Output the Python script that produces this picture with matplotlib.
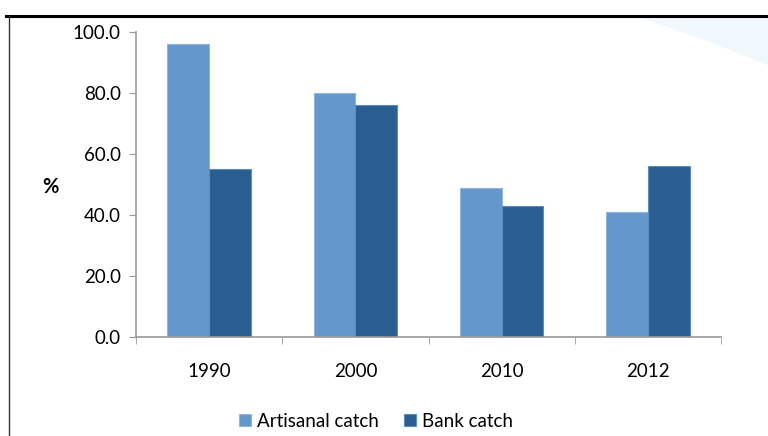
import matplotlib.pyplot as plt
import numpy as np
from matplotlib.patches import Polygon

plt.rcParams['font.family'] = ['Lato', 'DejaVu Sans']

years = ['1990', '2000', '2010', '2012']
artisanal = [96, 80, 49, 41]
bank = [55, 76, 43, 56]

fig = plt.figure(figsize=(7.68, 4.36), dpi=100)

# faint blue swoosh in the top-right corner
swoosh = Polygon([(0.83, 0.963), (1.0, 0.963), (1.0, 0.85), (0.93, 0.90)],
                 closed=True, transform=fig.transFigure,
                 facecolor='#f0f8fd', edgecolor='none', zorder=0)
fig.patches.append(swoosh)

# outer frame lines (top and left)
fig.add_artist(plt.Line2D([0.008, 1.0], [0.963, 0.963], transform=fig.transFigure,
                          color='black', lw=2.2))
fig.add_artist(plt.Line2D([0.012, 0.012], [0.0, 0.963], transform=fig.transFigure,
                          color='#333333', lw=1.0))

ax = fig.add_axes([136 / 768, 1 - 337 / 436, 585 / 768, 305 / 436])
ax.patch.set_alpha(0)

x = np.arange(len(years))
w = 0.285
ax.bar(x - w / 2, artisanal, w, color='#6497cb', edgecolor='#8fb6de', lw=0.8,
       label='Artisanal catch')
ax.bar(x + w / 2, bank, w, color='#2a5d90', edgecolor='#5b8cc2', lw=0.8,
       label='Bank catch')

ax.set_xlim(-0.5, len(years) - 0.5)
ax.set_ylim(0, 100)
ax.set_yticks(np.arange(0, 101, 20))
ax.set_yticklabels([f'{v:.1f}' for v in np.arange(0, 101, 20)], fontsize=13.5)
ax.set_xticks(x)
ax.set_xticklabels(years, fontsize=13.5)
ax.set_xticks(np.arange(-0.5, len(years)), minor=True)
ax.tick_params(axis='x', which='major', length=0, pad=19)
ax.tick_params(axis='x', which='minor', length=5, color='#999999')
ax.tick_params(axis='y', length=5, color='#999999', pad=6)

for s in ['top', 'right']:
    ax.spines[s].set_visible(False)
for s in ['left', 'bottom']:
    ax.spines[s].set_color('#999999')
    ax.spines[s].set_linewidth(1.2)

fig.text(50 / 768, 1 - 187 / 436, '%', fontsize=14.5, fontweight='bold',
         ha='center', va='center')

fig.legend(loc='center', bbox_to_anchor=(376 / 768, 1 - 421 / 436), ncol=2,
           frameon=False, fontsize=13.5, handlelength=0.65, handleheight=0.65,
           handletextpad=0.35, columnspacing=1.3)

fig.savefig('out.png', dpi=100)
